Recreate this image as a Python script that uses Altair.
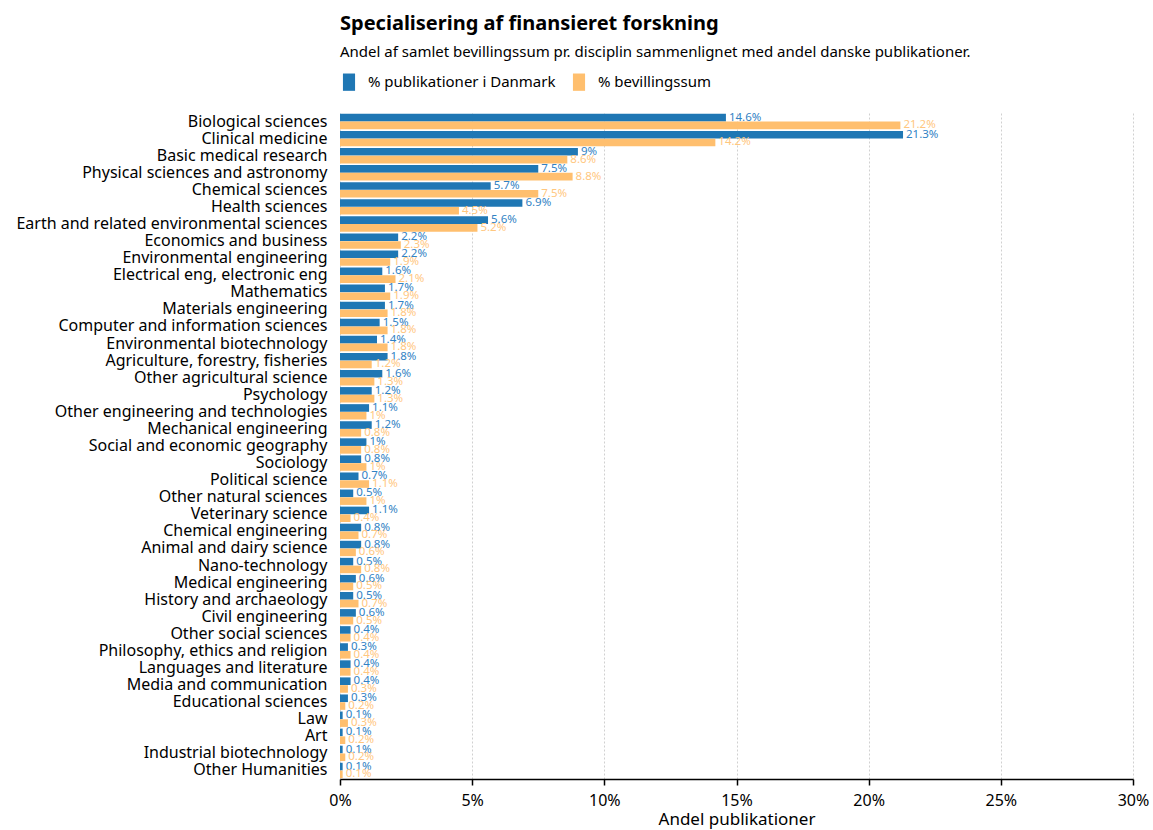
import altair as alt
import pandas as pd

categories = [
    "Biological sciences", "Clinical medicine", "Basic medical research",
    "Physical sciences and astronomy", "Chemical sciences", "Health sciences",
    "Earth and related environmental sciences", "Economics and business",
    "Environmental engineering", "Electrical eng, electronic eng", "Mathematics",
    "Materials engineering", "Computer and information sciences",
    "Environmental biotechnology", "Agriculture, forestry, fisheries",
    "Other agricultural science", "Psychology", "Other engineering and technologies",
    "Mechanical engineering", "Social and economic geography", "Sociology",
    "Political science", "Other natural sciences", "Veterinary science",
    "Chemical engineering", "Animal and dairy science", "Nano-technology",
    "Medical engineering", "History and archaeology", "Civil engineering",
    "Other social sciences", "Philosophy, ethics and religion",
    "Languages and literature", "Media and communication", "Educational sciences",
    "Law", "Art", "Industrial biotechnology", "Other Humanities",
]

pub_pct = [14.6, 21.3, 9.0, 7.5, 5.7, 6.9, 5.6, 2.2, 2.2, 1.6, 1.7, 1.7, 1.5, 1.4,
           1.8, 1.6, 1.2, 1.1, 1.2, 1.0, 0.8, 0.7, 0.5, 1.1, 0.8, 0.8, 0.5, 0.6,
           0.5, 0.6, 0.4, 0.3, 0.4, 0.4, 0.3, 0.1, 0.1, 0.1, 0.1]

grant_pct = [21.2, 14.2, 8.6, 8.8, 7.5, 4.5, 5.2, 2.3, 1.9, 2.1, 1.9, 1.8, 1.8, 1.8,
             1.2, 1.3, 1.3, 1.0, 0.8, 0.8, 1.0, 1.1, 1.0, 0.4, 0.7, 0.6, 0.8, 0.5,
             0.7, 0.5, 0.4, 0.4, 0.4, 0.3, 0.2, 0.3, 0.2, 0.2, 0.1]

series_names = ["% publikationer i Danmark", "% bevillingssum"]
series_colors = ["#1f77b4", "#ffbf6e"]
text_colors = ["#3182c4", "#ffc77f"]

rows = []
for c, p, g in zip(categories, pub_pct, grant_pct):
    rows.append({"cat": c, "series": series_names[0], "value": p / 100})
    rows.append({"cat": c, "series": series_names[1], "value": g / 100})
df = pd.DataFrame(rows)

FONT = "Noto Sans"

y_enc = alt.Y("cat:N", sort=categories, title=None,
              scale=alt.Scale(paddingInner=0.1, paddingOuter=0.05),
              axis=alt.Axis(labelFontSize=16, labelColor="black", ticks=False,
                            domain=False, labelPadding=13, labelFont=FONT,
                            labelLimit=400))
yoff = alt.YOffset("series:N", sort=series_names, scale=alt.Scale(paddingInner=0.02))

bars = alt.Chart(df).mark_bar().encode(
    x=alt.X("value:Q", scale=alt.Scale(domain=[0, 0.30]),
            title="Andel publikationer",
            axis=alt.Axis(format=".0%", values=[0, 0.05, 0.1, 0.15, 0.2, 0.25, 0.3],
                          labelFontSize=16, labelColor="black", labelFont=FONT,
                          labelFlush=False,
                          titleFont=FONT, titleFontSize=17, titleFontWeight="normal",
                          titleColor="black", domainColor="black", domainWidth=1.5,
                          tickColor="black", tickSize=6, tickWidth=1.5,
                          grid=True, gridColor="#d0d0d0", gridDash=[2, 2],
                          labelPadding=7, titlePadding=3)),
    y=y_enc,
    yOffset=yoff,
    color=alt.Color("series:N", sort=series_names,
                    scale=alt.Scale(domain=series_names, range=series_colors),
                    legend=alt.Legend(title=None, orient="top", direction="horizontal",
                                      labelFontSize=15, labelFont=FONT, labelColor="black",
                                      labelLimit=400,
                                      symbolType="M-0.7,-1h1.4v2h-1.4z",
                                      symbolSize=300, symbolStrokeWidth=0,
                                      symbolOpacity=1, columnPadding=14,
                                      labelOffset=10, offset=22, padding=0)),
)

texts = alt.Chart(df).mark_text(align="left", baseline="middle", dx=3,
                                fontSize=11.5, font=FONT).encode(
    x="value:Q",
    y=alt.Y("cat:N", sort=categories),
    yOffset=yoff,
    text=alt.Text("value:Q", format=".1~%"),
    color=alt.Color("series:N", sort=series_names,
                    scale=alt.Scale(domain=series_names, range=text_colors),
                    legend=None),
)

chart = alt.layer(bars, texts).resolve_scale(color="independent").properties(
    width=793, height=666,
    title=alt.TitleParams(
        "Specialisering af finansieret forskning",
        subtitle="Andel af samlet bevillingssum pr. disciplin sammenlignet med andel danske publikationer.",
        anchor="start", frame="group", font=FONT, fontSize=20, fontWeight="bold",
        color="black", subtitleFont=FONT, subtitleFontSize=15, subtitleColor="black",
        subtitlePadding=11, offset=13,
    ),
    padding={"left": 15, "top": 14, "right": 2, "bottom": 2},
).configure(background="white").configure_view(stroke=None)

chart.save("out.html", embed_options={"renderer": "svg", "actions": False})
